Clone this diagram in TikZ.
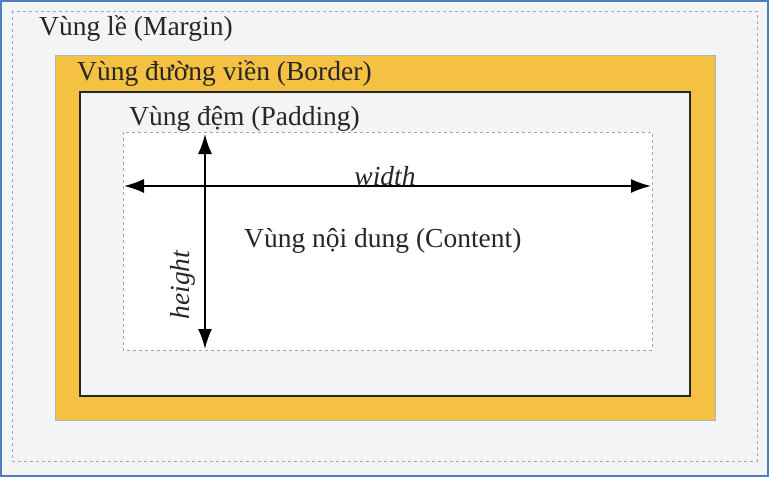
\documentclass[tikz,border=0pt]{standalone}
\usepackage{fontspec}
\setmainfont{Liberation Serif}
\usetikzlibrary{arrows.meta}
\definecolor{bgg}{RGB}{243,244,246}
\definecolor{org}{RGB}{245,193,66}
\definecolor{edge}{RGB}{80,125,190}
\tikzset{lbl/.style={anchor=west,inner sep=0pt,font=\fontsize{27.5}{30}\selectfont,text=black!85},
arr/.style={{Latex[length=20pt,width=14pt]}-{Latex[length=20pt,width=14pt]},line width=1.8pt},
dsh/.style={draw=gray!70,dashed,line width=0.9pt}}
\begin{document}
\begin{tikzpicture}[x=1pt,y=-1pt]
\useasboundingbox (0,0) rectangle (769,477);
\filldraw[draw=edge,line width=1.8pt,fill=bgg] (1,1) rectangle (768,476);
\draw[dsh] (12,11) rectangle (757,461);
\filldraw[fill=org,draw=black!30] (55,55) rectangle (715,420);
\filldraw[fill=bgg,draw=black!85,line width=1.5pt] (80,92) rectangle (690,396);
\fill[white] (123,132) rectangle (652,350);
\draw[dsh] (123,132) rectangle (652,350);
\node[lbl] (m) at (39,29) {Vùng lề (Margin)};
\node[lbl] (b) at (77,74) {Vùng đường viền (Border)};
\node[lbl] (p) at (129,119) {Vùng đệm (Padding)};
\node[lbl] (c) at (244,241) {Vùng nội dung (Content)};
\coordinate (wl) at (124,186);
\coordinate (wr) at (651,186);
\coordinate (ht) at (205,134);
\coordinate (hb) at (205,349);
\draw[arr] (wl) -- (wr);
\draw[arr] (ht) -- (hb);
\node[lbl,font=\fontsize{27.5}{30}\selectfont\itshape,anchor=south] (w) at (385,186) {width};
\node[lbl,font=\fontsize{27.5}{30}\selectfont\itshape,rotate=90,anchor=south] (h) at (196,285) {height};
\end{tikzpicture}
\end{document}
